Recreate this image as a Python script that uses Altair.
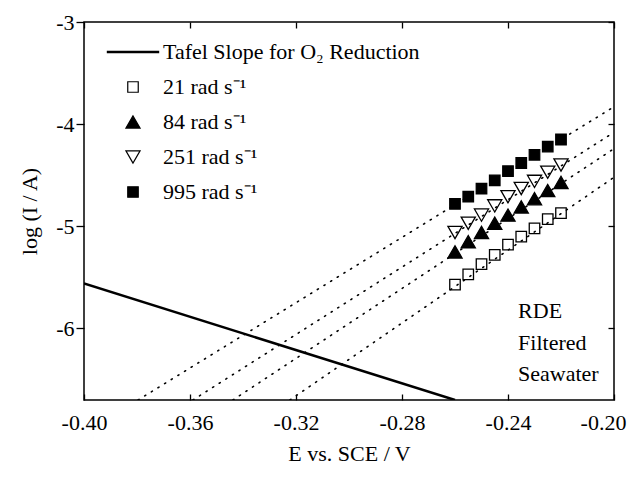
import altair as alt
import pandas as pd

# ---- data ----
E_VALUES = [-0.26, -0.255, -0.25, -0.245, -0.24, -0.235, -0.23, -0.225, -0.22]
LOG_21 = [-5.57, -5.47, -5.37, -5.28, -5.18, -5.10, -5.02, -4.93, -4.87]
LOG_84 = [-5.25, -5.15, -5.06, -4.97, -4.89, -4.81, -4.73, -4.65, -4.57]
LOG_251 = [-5.06, -4.97, -4.89, -4.80, -4.71, -4.63, -4.56, -4.47, -4.40]
LOG_995 = [-4.78, -4.71, -4.63, -4.55, -4.46, -4.38, -4.30, -4.22, -4.15]

SERIES = ["21 rad s⁻¹", "84 rad s⁻¹", "251 rad s⁻¹", "995 rad s⁻¹"]
TAFEL_LABEL = "Tafel Slope for O₂ Reduction"

TAFEL_E = [-0.40, -0.26]
TAFEL_LOG = [-5.56, -6.70]

# dotted extrapolations: start at bottom edge, end at right edge
FIT_E_START = [-0.3223, -0.3438, -0.3589, -0.3796]
FIT_LOG_START = [-6.70, -6.70, -6.70, -6.70]
FIT_E_END = [-0.20, -0.20, -0.20, -0.20]
FIT_LOG_END = [-4.52, -4.24, -4.08, -3.83]

X_TICKS = [-0.40, -0.36, -0.32, -0.28, -0.24, -0.20]
Y_TICKS = [-3, -4, -5, -6]
X_DOMAIN = [-0.40, -0.20]
Y_DOMAIN = [-6.7, -3.0]

NOTE_TEXT = "RDE\nFiltered\nSeawater"
NOTE_E = [-0.2362]
NOTE_LOG = [-5.90]

FONT = "Liberation Serif"
W, H = 530, 378

# ---- tables ----
pts = pd.DataFrame(
    [
        {"E": e, "logI": v, "series": s}
        for s, vals in zip(SERIES, [LOG_21, LOG_84, LOG_251, LOG_995])
        for e, v in zip(E_VALUES, vals)
    ]
)
tafel = pd.DataFrame({"E": TAFEL_E, "logI": TAFEL_LOG})
fits = pd.DataFrame(
    [
        {"E": e, "logI": v, "series": s}
        for s, e0, v0, e1, v1 in zip(SERIES, FIT_E_START, FIT_LOG_START, FIT_E_END, FIT_LOG_END)
        for e, v in [(e0, v0), (e1, v1)]
    ]
)
note = pd.DataFrame({"E": NOTE_E, "logI": NOTE_LOG, "t": [NOTE_TEXT]})

xs = alt.Scale(domain=X_DOMAIN, nice=False, zero=False)
ys = alt.Scale(domain=Y_DOMAIN, nice=False, zero=False)

LABEL_EXPR_X = "replace(format(datum.value, '.2f'), '\u2212', '-')"

main_x = alt.Axis(
    orient="bottom", values=X_TICKS[:-1], ticks=False, tickSize=0, domain=False, grid=False,
    labelExpr=LABEL_EXPR_X,
    labelFont=FONT, labelFontSize=22, labelColor="black", labelPadding=12,
    labelFlush=False, labelOverlap=False,
    title="E vs. SCE / V", titleFont=FONT, titleFontSize=22, titleFontWeight="normal",
    titleColor="black", titlePadding=10,
)
# last label kept inside the page edge
last_x = alt.Axis(
    orient="bottom", values=X_TICKS[-1:], ticks=False, tickSize=0, domain=False, grid=False,
    labelExpr=LABEL_EXPR_X, labelOffset=-11,
    labelFont=FONT, labelFontSize=22, labelColor="black", labelPadding=12,
    labelFlush=False, labelOverlap=False, title=None,
)
x_in_bottom = alt.Axis(
    orient="top", offset=-H, values=X_TICKS, labels=False, ticks=True, tickSize=6,
    tickColor="black", tickWidth=1.3, domain=False, grid=False, title=None,
)
x_in_top = alt.Axis(
    orient="bottom", offset=-H, values=X_TICKS, labels=False, ticks=True, tickSize=6,
    tickColor="black", tickWidth=1.3, domain=False, grid=False, title=None,
)
main_y = alt.Axis(
    orient="left", values=Y_TICKS, ticks=True, tickSize=8, tickColor="black", tickWidth=1.3,
    domain=False, grid=False, labelExpr="toString(datum.value)",
    labelFont=FONT, labelFontSize=22, labelColor="black", labelPadding=2,
    labelFlush=False, labelOverlap=False,
    title="log (I / A)", titleFont=FONT, titleFontSize=22, titleFontWeight="normal",
    titleColor="black", titlePadding=14,
)
y_in_right = alt.Axis(
    orient="left", offset=-W, values=Y_TICKS, labels=False, ticks=True, tickSize=6,
    tickColor="black", tickWidth=1.3, domain=False, grid=False, title=None,
)

LEGEND_DOMAIN = [TAFEL_LABEL] + SERIES
TAFEL_PATH = "M-6.4,-0.15H6.4V0.15H-6.4Z"

tafel_layer = alt.Chart(tafel).mark_line(color="black", strokeWidth=2.5, clip=True).encode(
    x=alt.X("E:Q", scale=xs, axis=main_x),
    y=alt.Y("logI:Q", scale=ys, axis=main_y),
)

fit_layer = alt.Chart(fits).mark_line(
    color="black", strokeWidth=1.6, strokeDash=[1.2, 6.6], strokeCap="round", clip=True
).encode(
    x=alt.X("E:Q", scale=xs, axis=x_in_bottom),
    y=alt.Y("logI:Q", scale=ys, axis=y_in_right),
    detail="series:N",
)

point_layer = alt.Chart(pts).mark_point(filled=True, strokeWidth=1.3, opacity=1).encode(
    x=alt.X("E:Q", scale=xs, axis=x_in_top),
    y=alt.Y("logI:Q", scale=ys, axis=None),
    shape=alt.Shape(
        "series:N",
        scale=alt.Scale(domain=LEGEND_DOMAIN,
                        range=[TAFEL_PATH, "square", "triangle-up", "triangle-down", "square"]),
        legend=alt.Legend(
            orient="none", legendX=38, legendY=19, title=None, padding=0,
            labelFont=FONT, labelFontSize=22, labelColor="black", labelLimit=400,
            labelOffset=19, rowPadding=13, symbolStrokeWidth=1.2,
        ),
    ),
    fill=alt.Fill(
        "series:N",
        scale=alt.Scale(domain=LEGEND_DOMAIN,
                        range=["black", "transparent", "black", "transparent", "black"]),
    ),
    stroke=alt.Stroke(
        "series:N",
        scale=alt.Scale(domain=LEGEND_DOMAIN,
                        range=["black", "black", "black", "black", "black"]),
    ),
    size=alt.Size(
        "series:N",
        scale=alt.Scale(type="ordinal", domain=LEGEND_DOMAIN, range=[64, 110, 200, 200, 110]),
    ),
)

note_layer = alt.Chart(note).mark_text(
    align="left", baseline="alphabetic", font=FONT, fontSize=22, color="black",
    lineBreak="\n", lineHeight=31.5,
).encode(
    x=alt.X("E:Q", scale=xs, axis=last_x),
    y=alt.Y("logI:Q", scale=ys, axis=None),
    text="t:N",
)

chart = (
    alt.layer(tafel_layer, fit_layer, point_layer, note_layer)
    .resolve_axis(x="independent", y="independent")
    .properties(
        width=W, height=H,
        autosize=alt.AutoSizeParams(type="none"),
        padding={"left": 76, "top": 14, "right": 18, "bottom": 70},
        background="white",
    )
    .configure_view(stroke="black", strokeWidth=1.5)
)

chart.save("out.html", embed_options={"renderer": "svg", "actions": False})
